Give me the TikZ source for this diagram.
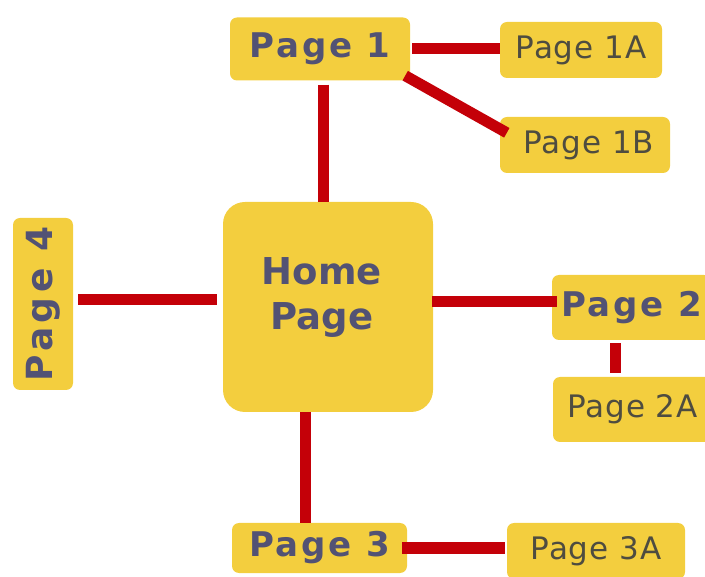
\documentclass[tikz,border=0pt]{standalone}
\usepackage{fontspec}
\setmainfont{DejaVu Sans}
\newfontfamily\titlefont[LetterSpace=8]{DejaVu Sans}
\newfontfamily\widetitlefont[LetterSpace=12]{DejaVu Sans}
\newfontfamily\homefont{DejaVu Sans}
\newfontfamily\subfont[LetterSpace=3]{DejaVu Sans}
\usetikzlibrary{calc}
\definecolor{pageyellow}{RGB}{243,206,62}
\definecolor{linkred}{RGB}{196,0,8}
\definecolor{titleslate}{RGB}{82,82,116}
\definecolor{subgray}{RGB}{78,76,64}

\begin{document}
\begin{tikzpicture}[x=1pt,y=-1pt,
  page/.style={fill=pageyellow,rounded corners=7pt,inner sep=0pt,text=titleslate,font=\titlefont\bfseries\fontsize{34}{40}\selectfont},
  subpage/.style={fill=pageyellow,rounded corners=7pt,inner sep=0pt,text=subgray,font=\subfont\fontsize{31}{36}\selectfont},
  link/.style={draw=linkred,line width=11pt}]
\useasboundingbox (0,0) rectangle (705,577);
\clip (0,0) rectangle (705,577);

\node[page,minimum width=180,minimum height=63] (p1) at (320,49) {Page 1};
\node[subpage,minimum width=162,minimum height=56] (p1a) at (581,50) {Page 1A};
\node[subpage,minimum width=170,minimum height=56] (p1b) at (585,145) {\hspace{8pt}Page 1B};

\node[fill=pageyellow,rounded corners=22pt,minimum width=210,minimum height=210] (home) at (328,307) {};
\node[text=titleslate,font=\homefont\bfseries\fontsize{37}{45}\selectfont,align=center] (hometext) at (322,298) {Home\\Page};

\node[page,font=\widetitlefont\bfseries\fontsize{36}{40}\selectfont,minimum width=60,minimum height=172] (p4) at (43,304) {\rotatebox{90}{Page 4}};

\node[page,minimum width=159,minimum height=65] (p2) at (631.5,307.5) {Page 2};
\node[subpage,minimum width=159,minimum height=65] (p2a) at (632.5,409.5) {Page 2A};

\node[page,minimum width=175,minimum height=50] (p3) at (319.5,548) {Page 3};
\node[subpage,minimum width=178,minimum height=56] (p3a) at (596,551) {Page 3A};

\draw[link] ([shift={(3,4)}]p1.south) -- ([shift={(3,0)}]p1.south |- home.north);
\draw[link] ([shift={(2,0)}]p1.east) -- (p1.east -| p1a.west);
\draw[link] ([shift={(-5,-5)}]p1.south east) -- ([shift={(7,16)}]p1b.north west);

\draw[link] ([shift={(5,-4)}]p4.east) -- ([shift={(-6,-7)}]home.west);
\draw[link] ([shift={(-1,-5)}]home.east) -- ([shift={(5,-5)}]home.east -| p2.west);
\draw[link] ([shift={(-16,3)}]p2.south) -- ([shift={(-16,-4)}]p2.south |- p2a.north);

\draw[link] ([shift={(-23,0)}]home.south) -- ([shift={(-23,0)}]home.south |- p3.north);
\draw[link] ([shift={(-5,0)}]p3.east) -- ([shift={(-2,0)}]p3.east -| p3a.west);

\end{tikzpicture}
\end{document}
